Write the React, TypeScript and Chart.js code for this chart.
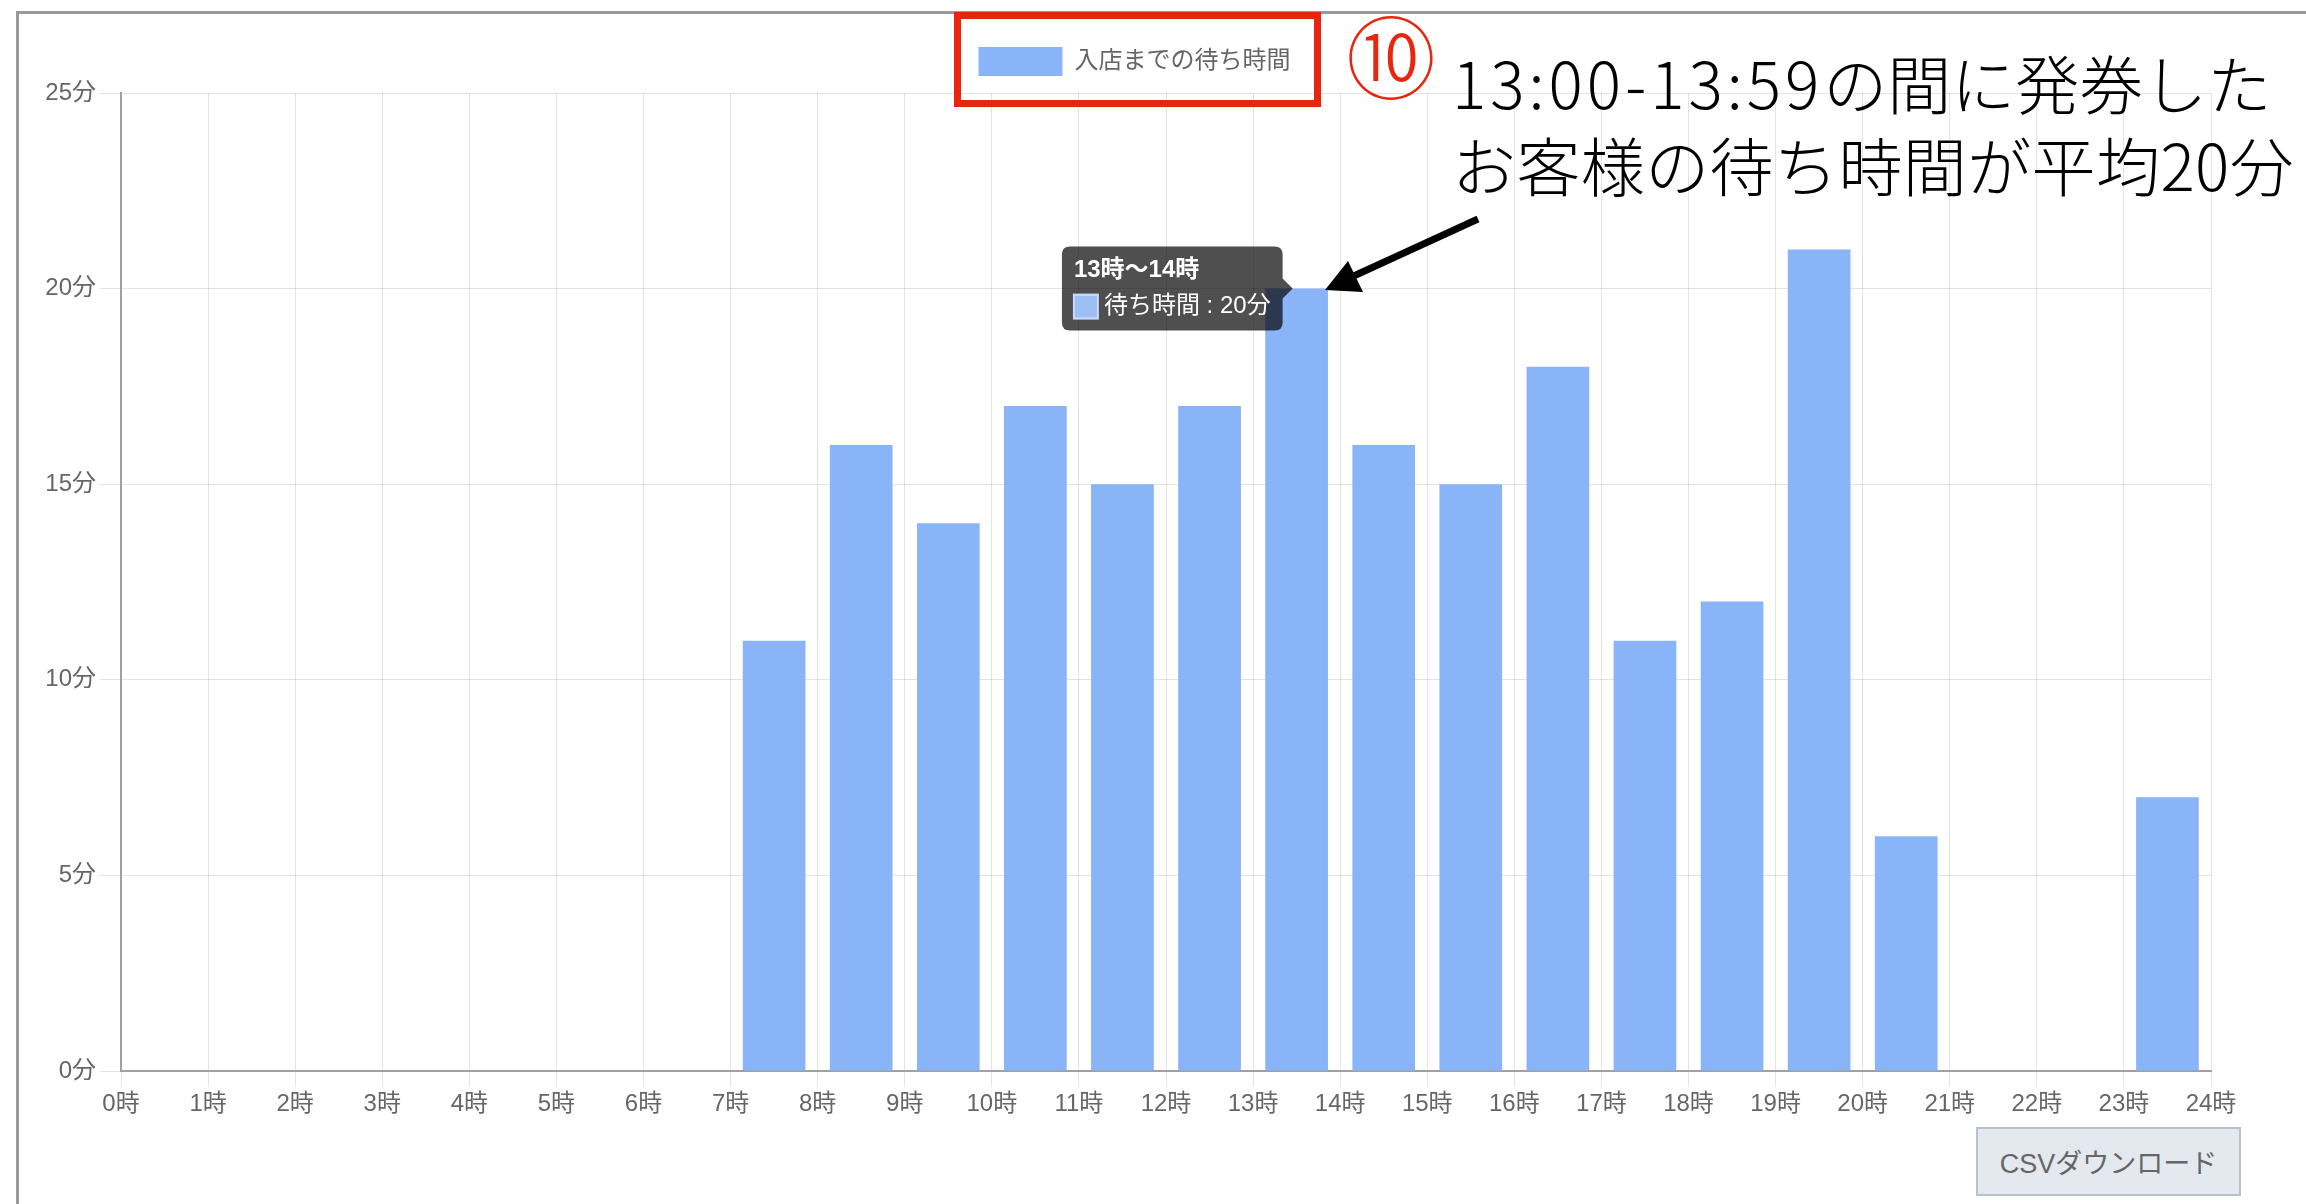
import React, { useEffect, useRef } from 'react';
import { Chart, registerables } from 'chart.js';

Chart.register(...registerables);

// ---- data ----
const hourTickLabels = [
  '0時', '1時', '2時', '3時', '4時', '5時', '6時', '7時', '8時', '9時', '10時', '11時', '12時',
  '13時', '14時', '15時', '16時', '17時', '18時', '19時', '20時', '21時', '22時', '23時', '24時',
];
const startHours = [0, 1, 2, 3, 4, 5, 6, 7, 8, 9, 10, 11, 12, 13, 14, 15, 16, 17, 18, 19, 20, 21, 22, 23];
const waitMinutes = [0, 0, 0, 0, 0, 0, 0, 11, 16, 14, 17, 15, 17, 20, 16, 15, 18, 11, 12, 21, 6, 0, 0, 7];
const yTickSuffix = '分';
const legendLabel = '入店までの待ち時間';
const tooltipLabel = '待ち時間';
const highlightedIndex = 13;
const noteLine1Time = '13:00-13:59';
const noteLine1Rest = 'の間に発券した';
const noteLine2 = 'お客様の待ち時間が平均20分';
const noteNumber = '⑩';
const csvButtonLabel = 'CSVダウンロード';

const BAR_COLOR = '#8ab4f8';
const FONT = "'Liberation Sans', 'Noto Sans CJK JP', sans-serif";

// legend: a little extra space below it, and centred on the full canvas width
const legendTweak = {
  id: 'legendTweak',
  beforeUpdate(chart: any) {
    const lg = chart.legend;
    if (lg && !lg.__spaced) {
      const fit = lg.fit;
      lg.fit = function () {
        fit.call(this);
        this.height += 7;
      };
      lg.__spaced = true;
    }
  },
  afterLayout(chart: any) {
    if (chart.legend) chart.legend.right = chart.width;
  },
};

function WaitChart() {
  const ref = useRef<HTMLCanvasElement | null>(null);
  useEffect(() => {
    if (!ref.current) return;
    const chart = new Chart(ref.current, {
      type: 'bar',
      data: {
        datasets: [
          {
            label: legendLabel,
            data: startHours.map((h, i) => ({ x: h + 0.5, y: waitMinutes[i] })),
            backgroundColor: BAR_COLOR,
            borderWidth: 0,
            categoryPercentage: 0.8,
            barPercentage: 0.9,
          },
        ],
      },
      options: {
        animation: false,
        responsive: true,
        maintainAspectRatio: false,
        events: [],
        layout: { padding: { top: 23, right: 39, bottom: 0, left: 0 } },
        scales: {
          x: {
            type: 'linear',
            min: 0,
            max: 24,
            offset: false,
            grid: { color: 'rgba(0,0,0,0.11)', tickLength: 16, offset: false },
            border: { display: true, color: '#a0a0a0', width: 2 },
            ticks: {
              stepSize: 1,
              autoSkip: false,
              maxRotation: 0,
              padding: 3,
              color: '#666',
              font: { family: FONT, size: 24 },
              callback: (v: any) => hourTickLabels[Number(v)] ?? '',
            },
            afterFit: (s: any) => {
              s.height = 50;
            },
          },
          y: {
            min: 0,
            max: 25,
            grid: { color: 'rgba(0,0,0,0.11)', tickLength: 21 },
            border: { display: true, color: '#a0a0a0', width: 2 },
            ticks: {
              stepSize: 5,
              padding: 4,
              color: '#666',
              font: { family: FONT, size: 24 },
              callback: (v: any) => `${v}${yTickSuffix}`,
            },
            afterFit: (s: any) => {
              s.width = 102;
            },
          },
        },
        plugins: {
          legend: {
            position: 'top',
            labels: {
              boxWidth: 84,
              boxHeight: 29,
              padding: 10,
              color: '#666',
              font: { family: FONT, size: 24 },
            },
          },
          tooltip: {
            enabled: true,
            xAlign: 'right',
            yAlign: 'center',
            backgroundColor: 'rgba(0,0,0,0.69)',
            titleColor: '#fff',
            bodyColor: '#fff',
            titleFont: { family: FONT, size: 24, weight: 'bold', lineHeight: 1 },
            bodyFont: { family: FONT, size: 24, lineHeight: 1 },
            titleMarginBottom: 12,
            padding: 12,
            caretSize: 10,
            caretPadding: 4,
            cornerRadius: 8,
            boxWidth: 24,
            boxHeight: 24,
            boxPadding: 4,
            displayColors: true,
            callbacks: {
              title: (items: any[]) => {
                const h = startHours[items[0].dataIndex];
                return `${hourTickLabels[h]}〜${hourTickLabels[h + 1]}`;
              },
              label: (item: any) => `${tooltipLabel} : ${waitMinutes[item.dataIndex]}${yTickSuffix}`,
              labelColor: () => ({
                borderColor: '#c8dbfb',
                backgroundColor: '#9dbff4',
                borderWidth: 2,
              }),
            },
          },
        },
      } as any,
      plugins: [legendTweak],
    });
    const el: any = chart.getDatasetMeta(0).data[highlightedIndex];
    chart.tooltip?.setActiveElements([{ datasetIndex: 0, index: highlightedIndex }], { x: el.x, y: el.y });
    chart.update();
    return () => chart.destroy();
  }, []);
  return (
    <div style={{ position: 'absolute', left: 19, top: 14, width: 2231, height: 1107 }}>
      <canvas ref={ref} />
    </div>
  );
}

export default function App() {
  useEffect(() => {
    document.body.style.margin = '0';
    document.body.style.overflow = 'hidden';
  }, []);
  return (
    <div style={{ position: 'absolute', left: 0, top: 0, width: 2306, height: 1204, overflow: 'hidden', background: '#fff' }}>
      <div
        style={{
          position: 'absolute',
          left: 16,
          top: 11,
          width: 2290,
          height: 1193,
          borderTop: '3px solid #999',
          borderLeft: '3px solid #999',
          boxSizing: 'border-box',
        }}
      />
      <WaitChart />
      {/* red frame around legend */}
      <div
        style={{
          position: 'absolute',
          left: 954,
          top: 12,
          width: 367,
          height: 95,
          border: '7px solid #e8260f',
          boxSizing: 'border-box',
        }}
      />
      {/* circled number */}
      <div
        style={{
          position: 'absolute',
          left: 1346,
          top: 8,
          fontFamily: "'Noto Sans CJK JP', sans-serif",
          fontSize: 90,
          fontWeight: 300,
          lineHeight: 1,
          color: '#e8260f',
          whiteSpace: 'nowrap',
        }}
      >
        {noteNumber}
      </div>
      {/* annotation text */}
      <div
        style={{
          position: 'absolute',
          left: 1452,
          top: 40,
          fontFamily: "'Noto Sans CJK JP', sans-serif",
          fontSize: 64,
          fontWeight: 300,
          lineHeight: '82px',
          color: '#000',
          whiteSpace: 'nowrap',
        }}
      >
        <div>
          <span style={{ letterSpacing: 4 }}>{noteLine1Time}</span>
          {noteLine1Rest}
        </div>
        <div style={{ letterSpacing: 0.4 }}>{noteLine2}</div>
      </div>
      {/* arrow */}
      <svg
        width={2306}
        height={1204}
        style={{ position: 'absolute', left: 0, top: 0, pointerEvents: 'none' }}
      >
        <line x1={1478} y1={219} x2={1345} y2={280} stroke="#000" strokeWidth={7} />
        <polygon points="1325,290 1348,261 1363,292" fill="#000" />
      </svg>
      {/* CSV button */}
      <div
        style={{
          position: 'absolute',
          left: 1976,
          top: 1127,
          width: 265,
          height: 69,
          boxSizing: 'border-box',
          background: '#e4e9f0',
          border: '2px solid #b8c2cc',
          color: '#666',
          fontFamily: FONT,
          fontSize: 27,
          display: 'flex',
          alignItems: 'center',
          justifyContent: 'center',
          whiteSpace: 'nowrap',
        }}
      >
        {csvButtonLabel}
      </div>
    </div>
  );
}
